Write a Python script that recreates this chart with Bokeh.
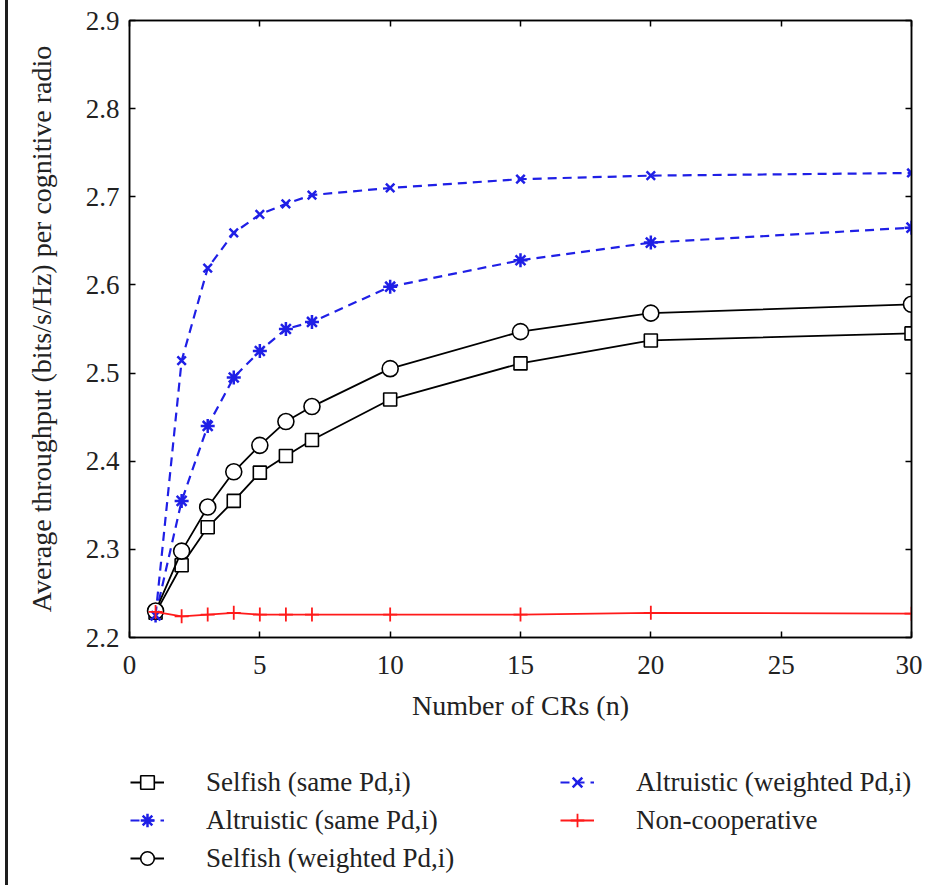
from bokeh.plotting import figure
from bokeh.models import LinearAxis, Legend, LegendItem, FixedTicker, Range1d, Div
from bokeh.layouts import row, column
from bokeh.embed import file_html
from bokeh.resources import INLINE

n_values = [1, 2, 3, 4, 5, 6, 7, 10, 15, 20, 30]
selfish_same = [2.228, 2.282, 2.325, 2.355, 2.387, 2.406, 2.424, 2.470, 2.511, 2.537, 2.545]
altruistic_same = [2.225, 2.355, 2.440, 2.495, 2.525, 2.550, 2.558, 2.598, 2.628, 2.648, 2.665]
selfish_weighted = [2.230, 2.298, 2.348, 2.388, 2.418, 2.445, 2.462, 2.505, 2.547, 2.568, 2.578]
altruistic_weighted = [2.225, 2.514, 2.619, 2.659, 2.680, 2.692, 2.702, 2.710, 2.720, 2.724, 2.727]
non_cooperative = [2.229, 2.224, 2.226, 2.228, 2.226, 2.226, 2.226, 2.226, 2.226, 2.228, 2.227]

series_labels = ["Selfish (same Pd,i)", "Altruistic (same Pd,i)", "Selfish (weighted Pd,i)",
                 "Altruistic (weighted Pd,i)", "Non-cooperative"]

x_ticks = [0, 5, 10, 15, 20, 25, 30]
y_ticks = [2.2, 2.3, 2.4, 2.5, 2.6, 2.7, 2.8, 2.9]

FONT = "Liberation Serif"
TXT = "#222222"
BLUE = "#1f1fe6"
RED = "#ff1a1a"

STYLES = [
    dict(line=dict(line_color="black", line_width=1.8),
         mark=dict(marker="square", size=13, fill_color="white", line_color="black", line_width=1.6)),
    dict(line=dict(line_color=BLUE, line_width=2.2, line_dash="9 6"),
         mark=dict(marker="asterisk", size=14, line_color=BLUE, line_width=2.5)),
    dict(line=dict(line_color="black", line_width=1.8),
         mark=dict(marker="circle", size=16, fill_color="white", line_color="black", line_width=1.6)),
    dict(line=dict(line_color=BLUE, line_width=2.2, line_dash="9 6"),
         mark=dict(marker="x", size=12, line_color=BLUE, line_width=2.5)),
    dict(line=dict(line_color=RED, line_width=1.8),
         mark=dict(marker="cross", size=14, line_color=RED, line_width=1.8)),
]
series = [selfish_same, altruistic_same, selfish_weighted, altruistic_weighted, non_cooperative]

p = figure(frame_width=782, frame_height=617, output_backend="svg", toolbar_location=None,
           x_range=Range1d(0, 30), y_range=Range1d(2.2, 2.9),
           min_border_left=121, min_border_top=20, min_border_right=11, min_border_bottom=100,
           x_axis_label="Number of CRs (n)",
           y_axis_label="Average throughput (bits/s/Hz) per cognitive radio")
p.grid.visible = False
p.outline_line_color = "black"
p.outline_line_width = 1.5
p.background_fill_color = "white"
p.border_fill_color = "white"

for ax in p.xaxis + p.yaxis:
    ax.major_tick_in = 6
    ax.major_tick_out = 0
    ax.minor_tick_line_color = None
    ax.axis_line_width = 1.5
    ax.major_tick_line_width = 1.5
    ax.major_label_text_font = FONT
    ax.major_label_text_font_size = "27px"
    ax.major_label_text_color = TXT
    ax.axis_label_text_font = FONT
    ax.axis_label_text_font_style = "normal"
    ax.axis_label_text_font_size = "28px"
    ax.axis_label_text_color = TXT

p.xaxis.ticker = FixedTicker(ticks=x_ticks)
p.yaxis.ticker = FixedTicker(ticks=y_ticks)
p.xaxis.major_label_standoff = 18
p.xaxis.axis_label_standoff = 13
p.yaxis.major_label_standoff = 10
p.yaxis.axis_label_standoff = 26

top = LinearAxis(ticker=FixedTicker(ticks=x_ticks), major_label_text_font_size="0px",
                 major_tick_in=6, major_tick_out=0, minor_tick_line_color=None,
                 axis_line_width=1.5, major_tick_line_width=1.5, major_label_standoff=0)
right = LinearAxis(ticker=FixedTicker(ticks=y_ticks), major_label_text_font_size="0px",
                   major_tick_in=6, major_tick_out=0, minor_tick_line_color=None,
                   axis_line_width=1.5, major_tick_line_width=1.5, major_label_standoff=0)
p.add_layout(top, "above")
p.add_layout(right, "right")

for ys, st in zip(series, STYLES):
    p.line(n_values, ys, **st["line"])
    p.scatter(n_values, ys, **st["mark"])

# legend panel: a blank figure (no axes) holding the two legend columns;
# its ranges keep the series out of view so only the legend keys show
lf = figure(width=914, height=140, output_backend="svg", toolbar_location=None,
            x_range=Range1d(100, 101), y_range=Range1d(100, 101),
            x_axis_location=None, y_axis_location=None,
            min_border=0, min_border_left=0, min_border_right=0,
            min_border_top=0, min_border_bottom=0)
lf.grid.visible = False
lf.outline_line_color = None
lf.background_fill_color = "white"
lf.border_fill_color = "white"

items = []
for lab, ys, st in zip(series_labels, series, STYLES):
    rl = lf.line(n_values, ys, **st["line"])
    rm = lf.scatter(n_values, ys, **st["mark"])
    items.append(LegendItem(label=lab, renderers=[rl, rm]))


def make_legend(its, loc):
    lg = Legend(items=its, location=loc, orientation="vertical")
    lg.label_text_font = FONT
    lg.label_text_font_size = "27px"
    lg.label_text_color = TXT
    lg.border_line_color = None
    lg.background_fill_alpha = 0
    lg.glyph_width = 34
    lg.label_standoff = 42
    lg.label_height = 34
    lg.glyph_height = 34
    lg.spacing = 4
    lg.margin = 0
    lg.padding = 0
    lg.click_policy = "none"
    return lg


lf.add_layout(make_legend(items[:3], (1, 2)), "center")
lf.add_layout(make_legend(items[3:], (431, 40)), "center")

edge = Div(text="", width=3, height=885, margin=(0, 0, 0, 5),
           styles={"background-color": "#1e1e1e"})

layout = row(edge, column(p, lf, spacing=0), spacing=0)
open("out.html", "w").write(file_html(layout, INLINE))
